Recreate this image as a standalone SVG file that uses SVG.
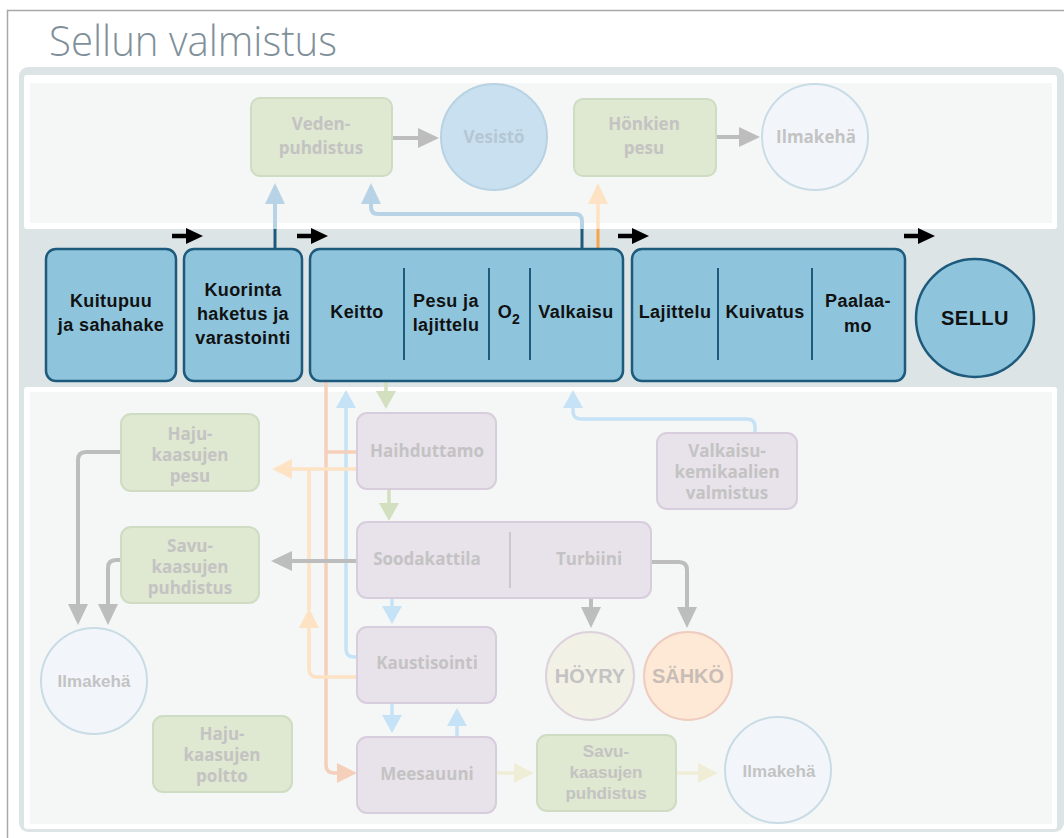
<svg xmlns="http://www.w3.org/2000/svg" width="1064" height="838" viewBox="0 0 1064 838">
<style>
.mid{fill:#8ec5dd;stroke:#1e5a7c;stroke-width:2.5}
.div{stroke:#1e5a7c;stroke-width:2;fill:none}
.gbox{fill:#dfe8d0;stroke:#cddcc2;stroke-width:2}
.pbox{fill:#e8e2ea;stroke:#d8cddd;stroke-width:2}
.tm{font-family:"Liberation Sans",Arial,sans-serif;font-weight:bold;font-size:18px;fill:#111;text-anchor:middle;letter-spacing:0.4px}
.tf{font-family:"Open Sans","Liberation Sans",sans-serif;font-weight:bold;font-size:17px;fill:#c3c3c3;text-anchor:middle}
.ta{font-family:"Liberation Sans",Arial,sans-serif;font-weight:bold;font-size:17px;fill:#c3c3c3;text-anchor:middle}
.c{fill:none;stroke-linejoin:round}
.cg{stroke:#bdbdbd;stroke-width:4}
.ctb{stroke:#b7d3e5;stroke-width:4}
.clb{stroke:#c5e2f6;stroke-width:3.5}
.cgr{stroke:#d3e0c0;stroke-width:3.5}
.csa{stroke:#f5cfba;stroke-width:3.5}
.clo{stroke:#fde2c4;stroke-width:3.5}
.cbe{stroke:#efedd6;stroke-width:3.5}
.cbk{stroke:#000;stroke-width:4.5}
</style>
<defs>
<marker id="mg" markerUnits="userSpaceOnUse" markerWidth="21" markerHeight="20" viewBox="0 0 21 20" refX="0" refY="10" orient="auto" overflow="visible"><path d="M0,0 L21,10 L0,20 z" fill="#bdbdbd"/></marker>
<marker id="mtb" markerUnits="userSpaceOnUse" markerWidth="21" markerHeight="20" viewBox="0 0 21 20" refX="0" refY="10" orient="auto" overflow="visible"><path d="M0,0 L21,10 L0,20 z" fill="#b7d3e5"/></marker>
<marker id="mto" markerUnits="userSpaceOnUse" markerWidth="21" markerHeight="20" viewBox="0 0 21 20" refX="0" refY="10" orient="auto" overflow="visible"><path d="M0,0 L21,10 L0,20 z" fill="#fde2c4"/></marker>
<marker id="mlb" markerUnits="userSpaceOnUse" markerWidth="18" markerHeight="20" viewBox="0 0 18 20" refX="0" refY="10" orient="auto" overflow="visible"><path d="M0,0 L18,10 L0,20 z" fill="#c5e2f6"/></marker>
<marker id="mgr" markerUnits="userSpaceOnUse" markerWidth="18" markerHeight="20" viewBox="0 0 18 20" refX="0" refY="10" orient="auto" overflow="visible"><path d="M0,0 L18,10 L0,20 z" fill="#d3e0c0"/></marker>
<marker id="msa" markerUnits="userSpaceOnUse" markerWidth="20" markerHeight="20" viewBox="0 0 20 20" refX="0" refY="10" orient="auto" overflow="visible"><path d="M0,0 L20,10 L0,20 z" fill="#f5cfba"/></marker>
<marker id="mlo" markerUnits="userSpaceOnUse" markerWidth="20" markerHeight="20" viewBox="0 0 20 20" refX="0" refY="10" orient="auto" overflow="visible"><path d="M0,0 L20,10 L0,20 z" fill="#fde2c4"/></marker>
<marker id="mbe" markerUnits="userSpaceOnUse" markerWidth="20" markerHeight="20" viewBox="0 0 20 20" refX="0" refY="10" orient="auto" overflow="visible"><path d="M0,0 L20,10 L0,20 z" fill="#efedd6"/></marker>
<marker id="mbk" markerUnits="userSpaceOnUse" markerWidth="17" markerHeight="16" viewBox="0 0 17 16" refX="0" refY="8" orient="auto" overflow="visible"><path d="M0,0 L17,8 L0,16 z" fill="#000"/></marker>
</defs>
<rect width="1064" height="838" fill="#fff"/>
<rect x="7.5" y="10.5" width="1100" height="900" fill="none" stroke="#a8a8a8" stroke-width="1.5"/>
<text x="49" y="56" font-family="'Open Sans','Liberation Sans',sans-serif" font-weight="300" font-size="42" fill="#7f909a" textLength="288" lengthAdjust="spacingAndGlyphs">Sellun valmistus</text>
<rect x="19" y="67" width="1045" height="765" rx="9" fill="#dce4e6"/>
<rect x="24" y="75" width="1033" height="154" rx="3" fill="#fff"/>
<rect x="30" y="83" width="1022" height="140" fill="#f5f7f7"/>
<rect x="24" y="387" width="1033" height="442" rx="3" fill="#fff"/>
<rect x="30" y="392" width="1022" height="432" fill="#f5f7f7"/>

<g id="connectors">
<path class="c cg" d="M392,138 H418" marker-end="url(#mg)"/>
<path class="c cg" d="M716,137 H739" marker-end="url(#mg)"/>
<path class="c ctb" d="M275,229 V204" marker-end="url(#mtb)"/>
<path class="c ctb" d="M582,229 V221 Q582,214 575,214 H378 Q371,214 371,207 V204" marker-end="url(#mtb)"/>
<path class="c clo" d="M598,229 V204" marker-end="url(#mto)"/>
<path d="M275,229 V249 M582,229 V249" stroke="#1e5a7c" stroke-width="3"/>
<path d="M598,229 V249" stroke="#f5a44a" stroke-width="3"/>
<path class="c cbk" d="M172,236 H186" marker-end="url(#mbk)"/>
<path class="c cbk" d="M297,236 H311" marker-end="url(#mbk)"/>
<path class="c cbk" d="M618,236 H632" marker-end="url(#mbk)"/>
<path class="c cbk" d="M904,236 H918" marker-end="url(#mbk)"/>
<path class="c cgr" d="M386,381 V391" marker-end="url(#mgr)"/>
<path class="c cgr" d="M389,489 V503" marker-end="url(#mgr)"/>
<path class="c clb" d="M392,598 V606" marker-end="url(#mlb)"/>
<path class="c clb" d="M392,703 V715" marker-end="url(#mlb)"/>
<path class="c clb" d="M457,737 V726" marker-end="url(#mlb)"/>
<path class="c clb" d="M357,657 H354 Q346,657 346,649 V408" marker-end="url(#mlb)"/>
<path class="c clb" d="M755,433 V427 Q755,419 747,419 H581 Q573,419 573,411 V408" marker-end="url(#mlb)"/>
<path class="c csa" d="M326,381 V765 Q326,773 334,773 H337" marker-end="url(#msa)"/>
<path class="c csa" d="M357,452 H326"/>
<path class="c clo" d="M357,469 H292" marker-end="url(#mlo)"/>
<path class="c clo" d="M357,677 H317 Q309,677 309,669 V628" marker-end="url(#mlo)"/>
<path class="c clo" d="M309,610 V469"/>
<path class="c cg" d="M357,561 H292" marker-end="url(#mg)"/>
<path class="c cg" d="M121,452 H86 Q78,452 78,460 V604" marker-end="url(#mg)"/>
<path class="c cg" d="M121,560 H116 Q108,560 108,568 V604" marker-end="url(#mg)"/>
<path class="c cg" d="M591,598 V607" marker-end="url(#mg)"/>
<path class="c cg" d="M651,562 H679 Q687,562 687,570 V607" marker-end="url(#mg)"/>
<path class="c cbe" d="M496,773 H514" marker-end="url(#mbe)"/>
<path class="c cbe" d="M676,773 H698" marker-end="url(#mbe)"/>
</g>

<g id="veden"><rect class="gbox" x="251" y="98" width="141" height="78" rx="9"/><text class="tf" x="321" y="130">Veden-</text><text class="tf" x="321" y="154">puhdistus</text></g>
<g id="vesisto"><circle cx="494" cy="137" r="53" fill="#c8e0f0" stroke="#b8d2e2" stroke-width="2"/><text class="tf" x="494" y="143" style="fill:#b5c7d3">Vesistö</text></g>
<g id="honkien"><rect class="gbox" x="574" y="99" width="142" height="77" rx="9"/><text class="tf" x="644" y="130">Hönkien</text><text class="tf" x="644" y="154">pesu</text></g>
<g id="ilmakeha-top"><circle cx="815" cy="137" r="53" fill="#f2f6fb" stroke="#c9dbe5" stroke-width="2"/><text class="tf" x="816" y="143">Ilmakehä</text></g>

<g id="kuitupuu"><rect class="mid" x="46" y="249" width="130" height="132" rx="10"/><text class="tm" x="111" y="307">Kuitupuu</text><text class="tm" x="111" y="331">ja sahahake</text></g>
<g id="kuorinta"><rect class="mid" x="184" y="249" width="118" height="132" rx="10"/><text class="tm" x="243" y="296">Kuorinta</text><text class="tm" x="243" y="320">haketus ja</text><text class="tm" x="243" y="344">varastointi</text></g>
<g id="keitto"><rect class="mid" x="310" y="249" width="313" height="132" rx="10"/>
<path class="div" d="M404,268 V360 M489,268 V360 M530,268 V360"/>
<text class="tm" x="357" y="318">Keitto</text>
<text class="tm" x="446" y="307">Pesu ja</text><text class="tm" x="446" y="331">lajittelu</text>
<text class="tm" x="509" y="318">O<tspan dy="6" font-size="14">2</tspan></text>
<text class="tm" x="576" y="318">Valkaisu</text></g>
<g id="lajittelu"><rect class="mid" x="632" y="249" width="273" height="132" rx="10"/>
<path class="div" d="M718,268 V360 M812,268 V360"/>
<text class="tm" x="675" y="318">Lajittelu</text>
<text class="tm" x="765" y="318">Kuivatus</text>
<text class="tm" x="858" y="307">Paalaa-</text><text class="tm" x="858" y="332">mo</text></g>
<g id="sellu"><circle class="mid" cx="975" cy="318" r="59"/><text class="tm" x="975" y="325" style="font-size:20px;letter-spacing:0.5px">SELLU</text></g>

<g id="haju-pesu"><rect class="gbox" x="121" y="414" width="138" height="77" rx="10"/><text class="tf" x="190" y="440">Haju-</text><text class="tf" x="190" y="461">kaasujen</text><text class="tf" x="190" y="482">pesu</text></g>
<g id="savu-left"><rect class="gbox" x="121" y="527" width="138" height="76" rx="10"/><text class="tf" x="190" y="552">Savu-</text><text class="tf" x="190" y="573">kaasujen</text><text class="tf" x="190" y="594">puhdistus</text></g>
<g id="haju-poltto"><rect class="gbox" x="153" y="716" width="139" height="76" rx="10"/><text class="tf" x="222" y="740">Haju-</text><text class="tf" x="222" y="761">kaasujen</text><text class="tf" x="222" y="782">poltto</text></g>
<g id="haihduttamo"><rect class="pbox" x="357" y="413" width="139" height="76" rx="10"/><text class="tf" x="427" y="457">Haihduttamo</text></g>
<g id="soodakattila"><rect class="pbox" x="357" y="522" width="294" height="76" rx="10"/><path d="M510,532 V588" stroke="#cfc6d4" stroke-width="2"/><text class="tf" x="427" y="565">Soodakattila</text><text class="tf" x="589" y="565">Turbiini</text></g>
<g id="kaustisointi"><rect class="pbox" x="357" y="627" width="139" height="76" rx="10"/><text class="tf" x="427" y="669">Kaustisointi</text></g>
<g id="meesauuni"><rect class="pbox" x="357" y="737" width="139" height="76" rx="10"/><text class="tf" x="427" y="780">Meesauuni</text></g>
<g id="valkaisukem"><rect class="pbox" x="657" y="433" width="140" height="76" rx="10"/><text class="tf" x="727" y="457">Valkaisu-</text><text class="tf" x="727" y="478">kemikaalien</text><text class="tf" x="727" y="499">valmistus</text></g>
<g id="savu-bottom"><rect class="gbox" x="537" y="735" width="139" height="76" rx="10"/><text class="ta" x="606" y="757">Savu-</text><text class="ta" x="606" y="778">kaasujen</text><text class="ta" x="606" y="799">puhdistus</text></g>
<g id="ilmakeha-left"><circle cx="94" cy="681" r="53" fill="#f2f6fb" stroke="#c9dbe5" stroke-width="2"/><text class="ta" x="94" y="687">Ilmakehä</text></g>
<g id="hoyry"><circle cx="590" cy="676" r="44" fill="#f2f1e6" stroke="#dcd2dc" stroke-width="2"/><text class="ta" x="590" y="683" style="font-size:20px">HÖYRY</text></g>
<g id="sahko"><circle cx="688" cy="676" r="44" fill="#fde9d5" stroke="#f0cbc0" stroke-width="2"/><text class="ta" x="688" y="683" style="font-size:20px;fill:#c8bdb6">SÄHKÖ</text></g>
<g id="ilmakeha-bottom"><circle cx="778" cy="770" r="53" fill="#f2f6fb" stroke="#c9dbe5" stroke-width="2"/><text class="ta" x="779" y="777">Ilmakehä</text></g>
</svg>
